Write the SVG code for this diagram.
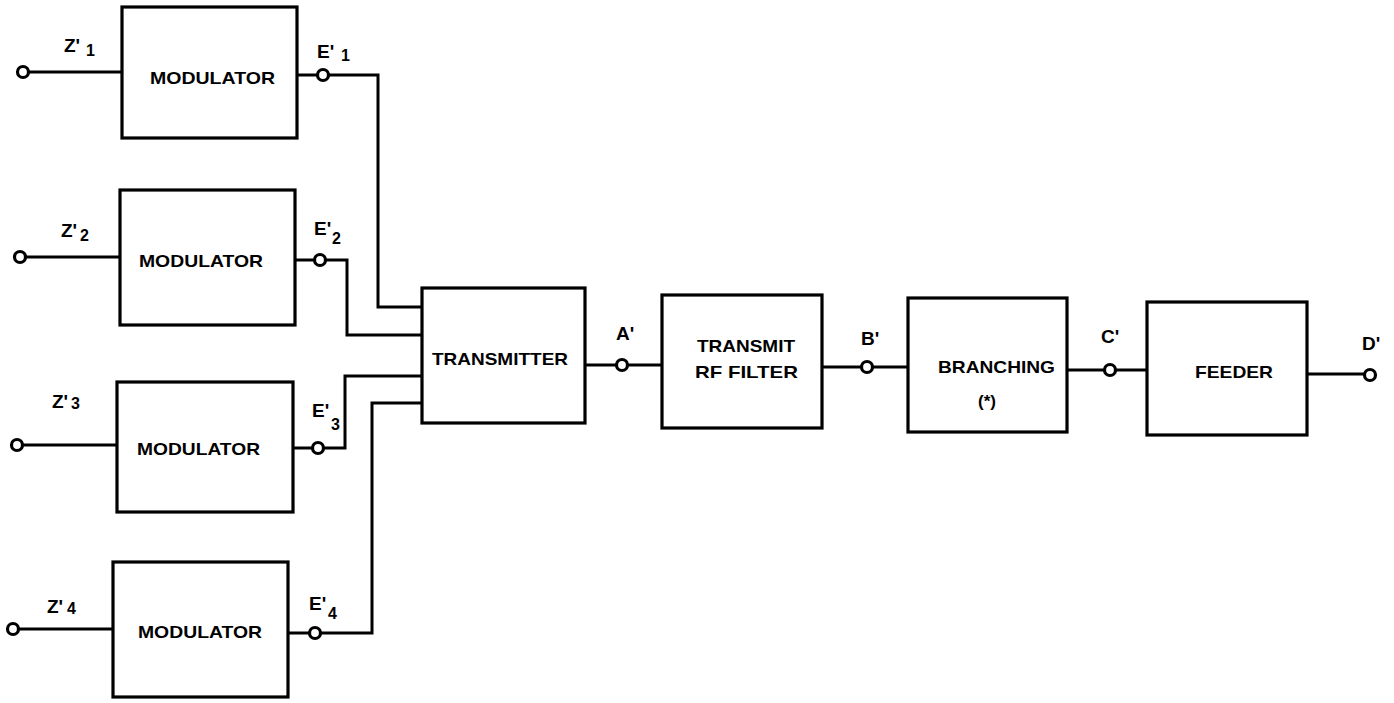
<svg xmlns="http://www.w3.org/2000/svg" width="1394" height="703" viewBox="0 0 1394 703">
<style>
.box{fill:none;stroke:#000;stroke-width:3.2}
.ln{fill:none;stroke:#000;stroke-width:3;stroke-linejoin:miter}
.term{fill:#fff;stroke:#000;stroke-width:3.2}
.t{font-family:"Liberation Sans",Arial,sans-serif;font-weight:bold;font-size:17px;fill:#000}
.lb{font-family:"Liberation Sans",Arial,sans-serif;font-weight:bold;font-size:19px;fill:#000}
.sb{font-family:"Liberation Sans",Arial,sans-serif;font-weight:bold;font-size:16px;fill:#000}
</style>
<rect width="1394" height="703" fill="#fff"/>
<g id="connectors">
<path class="ln" d="M23,72 H122"/>
<path class="ln" d="M297,75 H378 V307 H422"/>
<path class="ln" d="M20,257 H120"/>
<path class="ln" d="M295,260 H347 V335 H422"/>
<path class="ln" d="M17,445 H117"/>
<path class="ln" d="M293,448 H345 V376 H422"/>
<path class="ln" d="M13,629 H113"/>
<path class="ln" d="M288,633 H372 V403 H422"/>
<path class="ln" d="M585,365 H662"/>
<path class="ln" d="M822,367 H908"/>
<path class="ln" d="M1067,370 H1147"/>
<path class="ln" d="M1307,374 H1370"/>
</g>
<g id="mod1">
<rect class="box" x="122" y="7" width="175" height="131"/>
<text class="t" x="150" y="84" textLength="125" lengthAdjust="spacingAndGlyphs">MODULATOR</text>
</g>
<g id="mod2">
<rect class="box" x="120" y="190" width="175" height="135"/>
<text class="t" x="139" y="267" textLength="124" lengthAdjust="spacingAndGlyphs">MODULATOR</text>
</g>
<g id="mod3">
<rect class="box" x="117" y="382" width="176" height="130"/>
<text class="t" x="137" y="455" textLength="123" lengthAdjust="spacingAndGlyphs">MODULATOR</text>
</g>
<g id="mod4">
<rect class="box" x="113" y="562" width="175" height="135"/>
<text class="t" x="138" y="638" textLength="124" lengthAdjust="spacingAndGlyphs">MODULATOR</text>
</g>
<g id="transmitter">
<rect class="box" x="422" y="288" width="163" height="135"/>
<text class="t" x="432" y="365" textLength="136" lengthAdjust="spacingAndGlyphs">TRANSMITTER</text>
</g>
<g id="rffilter">
<rect class="box" x="662" y="295" width="160" height="133"/>
<text class="t" x="697" y="352" textLength="98" lengthAdjust="spacingAndGlyphs">TRANSMIT</text>
<text class="t" x="695" y="378" textLength="103" lengthAdjust="spacingAndGlyphs">RF FILTER</text>
</g>
<g id="branching">
<rect class="box" x="908" y="298" width="159" height="134"/>
<text class="t" x="938" y="373" textLength="117" lengthAdjust="spacingAndGlyphs">BRANCHING</text>
<text class="t" x="987" y="407" text-anchor="middle">(*)</text>
</g>
<g id="feeder">
<rect class="box" x="1147" y="302" width="160" height="133"/>
<text class="t" x="1195" y="378" textLength="78" lengthAdjust="spacingAndGlyphs">FEEDER</text>
</g>
<g id="terminals">
<circle class="term" cx="23" cy="72" r="5.5"/>
<circle class="term" cx="323" cy="75" r="5.5"/>
<circle class="term" cx="20" cy="257" r="5.5"/>
<circle class="term" cx="320" cy="260" r="5.5"/>
<circle class="term" cx="17" cy="445" r="5.5"/>
<circle class="term" cx="318" cy="448" r="5.5"/>
<circle class="term" cx="13" cy="629" r="5.5"/>
<circle class="term" cx="315" cy="633" r="5.5"/>
<circle class="term" cx="622" cy="365" r="5.5"/>
<circle class="term" cx="867" cy="367" r="5.5"/>
<circle class="term" cx="1110" cy="370" r="5.5"/>
<circle class="term" cx="1370" cy="375" r="5.5"/>
</g>
<g id="labels">
<text class="lb" x="64" y="52">Z'</text><text class="sb" x="86" y="56">1</text>
<text class="lb" x="317" y="58">E'</text><text class="sb" x="341" y="61">1</text>
<text class="lb" x="61" y="237">Z'</text><text class="sb" x="80" y="241">2</text>
<text class="lb" x="314" y="235">E'</text><text class="sb" x="332" y="244">2</text>
<text class="lb" x="52" y="408">Z'</text><text class="sb" x="71" y="409">3</text>
<text class="lb" x="312" y="417">E'</text><text class="sb" x="331" y="430">3</text>
<text class="lb" x="47" y="613">Z'</text><text class="sb" x="67" y="614">4</text>
<text class="lb" x="309" y="610">E'</text><text class="sb" x="328" y="619">4</text>
<text class="lb" x="616" y="340">A'</text>
<text class="lb" x="861" y="345">B'</text>
<text class="lb" x="1101" y="343">C'</text>
<text class="lb" x="1362" y="350">D'</text>
</g>
</svg>
